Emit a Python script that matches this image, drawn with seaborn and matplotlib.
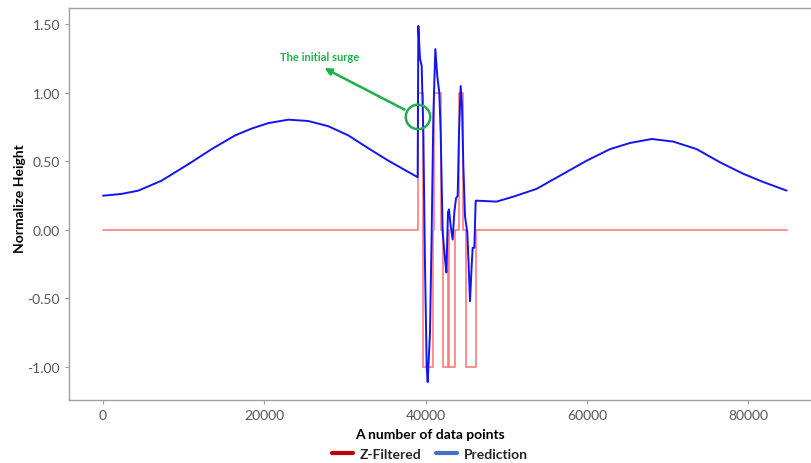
import numpy as np
import matplotlib
matplotlib.use("Agg")
import matplotlib.pyplot as plt
import pandas as pd
import seaborn as sns
from matplotlib.lines import Line2D

# prediction curve
pred_x = [0, 2300, 4380, 7270, 10580, 13470, 16370, 18430, 20500, 22980, 25460,
          27940, 30420, 32900, 35370, 39012,
          39094, 39301, 39508, 39714, 39921, 40128, 40252, 40541, 40748, 40954,
          41202, 41450, 41698, 41864, 42112, 42400, 42566, 42772, 42896, 43103,
          43351, 43557, 43764, 43971, 44136, 44343, 44508, 44673, 44880, 45169,
          45335, 45500, 45707, 45831, 46037, 46203,
          46240, 48800, 50870, 53760, 57070, 59970, 62860, 65340, 68030, 70700,
          73600, 76490, 79380, 81860, 84760]
pred_y = [0.25, 0.263, 0.287, 0.36, 0.48, 0.59, 0.69, 0.74, 0.78, 0.805, 0.795,
          0.757, 0.69, 0.596, 0.506, 0.385,
          1.49, 1.25, 1.20, 0.71, -0.26, -0.99, -1.11, -0.75, -0.02, 0.83,
          1.32, 1.12, 1.00, 0.71, -0.02, -0.21, -0.31, 0.13, 0.15, 0.03,
          -0.07, 0.13, 0.23, 0.25, 0.71, 1.05, 0.91, 0.47, 0.10, -0.02,
          -0.26, -0.52, -0.26, -0.13, -0.13, 0.21,
          0.214, 0.207, 0.243, 0.30, 0.41, 0.506, 0.59, 0.635, 0.664, 0.645,
          0.59, 0.494, 0.41, 0.35, 0.287]

# z-filtered signal, step values (post)
zf_x = [0, 39016, 39636, 40876, 41036, 41867, 42115, 42809, 42933, 43677,
        44136, 44595, 45004, 46207, 84760]
zf_y = [0, 1, -1, 0, 1, 0, -1, 0, -1, 0, 1, 0, -1, 0, 0]

# annotation
surge_label = "The initial surge"
surge_pt = (39053, 0.825)
arrow_tail = (37689, 0.869)
arrow_tip = (27151, 1.19)
text_pos = (26903, 1.263)

sns.set_theme(style="white")
plt.rcParams['font.family'] = ['Lato', 'DejaVu Sans']

fig = plt.figure(figsize=(8.11, 4.64), dpi=100)
ax = fig.add_axes([69/811, 63/464, 742/811, 392/464])

df_zf = pd.DataFrame({'x': zf_x, 'y': zf_y})
df_pred = pd.DataFrame({'x': pred_x, 'y': pred_y})

sns.lineplot(data=df_zf, x='x', y='y', ax=ax, color='#FF7C7C', lw=1.2,
             drawstyle='steps-post', estimator=None, sort=False, zorder=2)
sns.lineplot(data=df_pred, x='x', y='y', ax=ax, color='#1414F0', lw=1.4,
             estimator=None, sort=False, zorder=3)

green = '#1DB04B'
ax.scatter([surge_pt[0]], [surge_pt[1]], s=310, facecolors='none',
           edgecolors=green, linewidths=1.8, zorder=4)
ax.annotate('', xy=arrow_tip, xytext=arrow_tail,
            arrowprops=dict(arrowstyle='-|>', color=green, lw=1.8,
                            mutation_scale=10), zorder=4)
ax.text(text_pos[0], text_pos[1], surge_label, color=green, fontsize=8,
        fontweight='bold', ha='center', va='center')

ax.set_xlim(-4215, 87776)
ax.set_ylim(-1.241, 1.620)
ax.set_xticks([0, 20000, 40000, 60000, 80000])
ax.set_yticks([-1.0, -0.5, 0.0, 0.5, 1.0, 1.5])
ax.set_yticklabels(['-1.00', '-0.50', '0.00', '0.50', '1.00', '1.50'])
ax.tick_params(axis='both', colors='#A0A0A0', labelcolor='#555555',
               labelsize=10, length=3, width=0.8, direction='out',
               bottom=True, left=True)
for side in ['left', 'top', 'bottom']:
    ax.spines[side].set_color('#A0A0A0')
    ax.spines[side].set_linewidth(1.0)
ax.spines['right'].set_visible(False)
ax.set_xlabel('')
ax.set_ylabel('')

fig.text(430/811, 1 - 435/464, 'A number of data points', ha='center',
         va='center', fontsize=10, fontweight='bold', color='black')
fig.text(20/811, 1 - 199/464, 'Normalize Height', ha='center', va='center',
         rotation=90, fontsize=10, fontweight='bold', color='black')

handles = [Line2D([], [], color='#C00000', lw=3),
           Line2D([], [], color='#4472C4', lw=3)]
fig.legend(handles, ['Z-Filtered', 'Prediction'], loc='center',
           bbox_to_anchor=(430/811, 1 - 455/464), ncol=2, frameon=False,
           prop={'weight': 'bold', 'size': 10}, handlelength=1.5,
           columnspacing=1.0, handletextpad=0.5)

fig.savefig('out.png', dpi=100)
